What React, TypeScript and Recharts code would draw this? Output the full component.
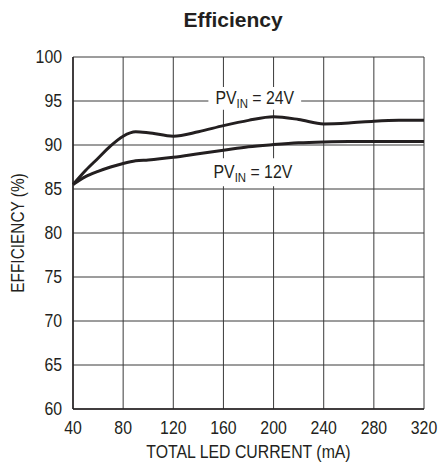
import { LineChart, Line, XAxis, YAxis, CartesianGrid, ReferenceArea } from 'recharts'

const currents = [40, 50, 60, 70, 80, 90, 100, 120, 140, 160, 180, 200, 220, 240, 260, 280, 300, 320]
const eff24 = [85.5, 87.1, 88.5, 89.9, 91.0, 91.5, 91.4, 91.0, 91.5, 92.2, 92.8, 93.2, 92.9, 92.4, 92.5, 92.7, 92.8, 92.8]
const eff12 = [85.5, 86.4, 87.0, 87.5, 87.9, 88.2, 88.3, 88.6, 89.0, 89.4, 89.8, 90.05, 90.25, 90.35, 90.4, 90.4, 90.4, 90.4]
const xTicks = [40, 80, 120, 160, 200, 240, 280, 320]
const yTicks = [60, 65, 70, 75, 80, 85, 90, 95, 100]

const data = currents.map((c, i) => ({ current: c, v24: eff24[i], v12: eff12[i] }))

const FONT = '"Liberation Sans", Arial, Helvetica, sans-serif'
const INK = '#231f20'
const NARROW = 0.88

// condensed text: the reference uses a narrow Helvetica
function Narrow({ x, y, anchor = 'middle', dy = 0, size = 18, rotate = 0, children }: any) {
  return (
    <g transform={`translate(${x},${y}) rotate(${rotate}) scale(${NARROW},1)`}>
      <text x={0} y={0} dy={dy} textAnchor={anchor} fontFamily={FONT} fontSize={size} fill={INK}>
        {children}
      </text>
    </g>
  )
}

function XTick({ x, y, payload }: any) {
  return <Narrow x={x} y={y} dy="0.71em">{payload.value}</Narrow>
}

function YTick({ x, y, payload }: any) {
  return <Narrow x={x} y={y} dy="0.355em" anchor="end">{payload.value}</Narrow>
}

function XTitle({ viewBox }: any) {
  return (
    <Narrow x={viewBox.x + viewBox.width / 2} y={viewBox.y + viewBox.height - 8}>
      TOTAL LED CURRENT (mA)
    </Narrow>
  )
}

function YTitle({ viewBox }: any) {
  return (
    <Narrow x={18} y={viewBox.y + viewBox.height / 2} rotate={-90} dy="0.355em" size={17.5}>
      EFFICIENCY (%)
    </Narrow>
  )
}

function PvLabel({ viewBox, volts }: any) {
  const cx = viewBox.x + viewBox.width / 2
  const cy = viewBox.y + viewBox.height / 2
  return (
    <Narrow x={cx} y={cy + 6}>
      <tspan>PV</tspan>
      <tspan fontSize={13} dy={4}>IN</tspan>
      <tspan dy={-4}>{` = ${volts}V`}</tspan>
    </Narrow>
  )
}

export default function App() {
  return (
    <div style={{ position: 'absolute', left: 0, top: 0, width: 438, height: 466, background: '#fff' }}>
      <div
        style={{
          position: 'absolute',
          left: 133,
          width: 200,
          top: 8,
          textAlign: 'center',
          fontFamily: FONT,
          fontWeight: 'bold',
          fontSize: 21,
          color: INK,
        }}
      >
        Efficiency
      </div>
      <LineChart width={438} height={466} data={data} margin={{ top: 57, right: 14, left: 0, bottom: 0 }}>
        <CartesianGrid stroke="#3a3a3a" strokeWidth={1} horizontalValues={yTicks} verticalValues={xTicks} />
        <XAxis
          dataKey="current"
          type="number"
          domain={[40, 320]}
          ticks={xTicks}
          height={57}
          tickSize={0}
          tickMargin={12}
          axisLine={{ stroke: INK, strokeWidth: 1.5 }}
          tick={<XTick />}
          label={<XTitle />}
        />
        <YAxis
          type="number"
          domain={[60, 100]}
          ticks={yTicks}
          width={73}
          tickSize={0}
          tickMargin={11}
          axisLine={{ stroke: INK, strokeWidth: 1.5 }}
          tick={<YTick />}
          label={<YTitle />}
        />
        <XAxis xAxisId="top" orientation="top" type="number" domain={[40, 320]} ticks={[]} height={0} tick={false} axisLine={{ stroke: INK, strokeWidth: 1.5 }} />
        <YAxis yAxisId="right" orientation="right" type="number" domain={[60, 100]} ticks={[]} width={0} tick={false} axisLine={{ stroke: INK, strokeWidth: 1.5 }} />
        <ReferenceArea
          x1={148}
          x2={222}
          y1={94.0}
          y2={96.6}
          fill="#fff"
          fillOpacity={1}
          stroke="none"
          label={<PvLabel volts={24} />}
        />
        <ReferenceArea
          x1={146}
          x2={221}
          y1={85.3}
          y2={88.5}
          fill="#fff"
          fillOpacity={1}
          stroke="none"
          label={<PvLabel volts={12} />}
        />
        <Line type="monotone" dataKey="v24" stroke={INK} strokeWidth={3} dot={false} isAnimationActive={false} />
        <Line type="monotone" dataKey="v12" stroke={INK} strokeWidth={3} dot={false} isAnimationActive={false} />
      </LineChart>
    </div>
  )
}
